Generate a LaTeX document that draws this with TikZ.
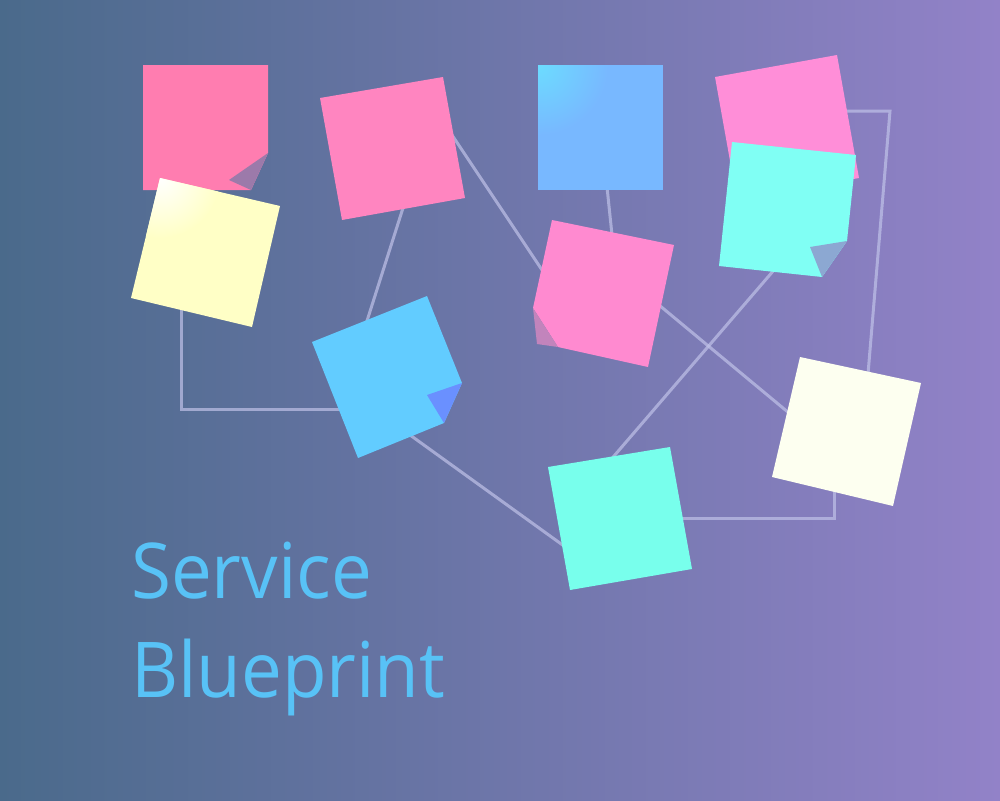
\documentclass[tikz,border=0pt]{standalone}
\usepackage{fontspec}
\setmainfont{Open Sans}
\newfontfamily\titlefont[FakeStretch=0.945]{Open Sans}
\definecolor{bgL}{HTML}{4A6A8B}
\definecolor{bgR}{HTML}{9282C8}
\definecolor{lineC}{HTML}{C0C2E8}
\definecolor{pinkA}{HTML}{FF7DB0}
\definecolor{pinkB}{HTML}{FF85C0}
\definecolor{pinkE}{HTML}{FF8ED8}
\definecolor{pinkG}{HTML}{FF8AD0}
\definecolor{yelC}{HTML}{FFFFC6}
\definecolor{blueD}{HTML}{78B8FF}
\definecolor{blueDl}{HTML}{6CDCFF}
\definecolor{cyanF}{HTML}{80FFF4}
\definecolor{blueH}{HTML}{62CCFF}
\definecolor{cyanI}{HTML}{78FFEC}
\definecolor{creamJ}{HTML}{FDFFF0}
\definecolor{foldA}{HTML}{9C7AAA}
\definecolor{foldF}{HTML}{8CA8D2}
\definecolor{foldG}{HTML}{C284BC}
\definecolor{foldH}{HTML}{6A90FF}
\definecolor{titleC}{HTML}{58C2F6}
\begin{document}
\begin{tikzpicture}[x=1pt,y=-1pt,
  conn/.style={line width=3pt,draw=lineC,draw opacity=0.7},
  title/.style={anchor=base west,inner sep=0pt,text=titleC,font=\titlefont\fontsize{77}{90}\selectfont}]
\useasboundingbox (0,0) rectangle (1000,800);
\shade[left color=bgL,right color=bgR] (0,0) rectangle (1000,800);
% connector end points
\coordinate (c1a) at (181,300);
\coordinate (c1b) at (181,409);
\coordinate (c1c) at (340,409);
\coordinate (c2a) at (403,208);
\coordinate (c2b) at (366,324);
\coordinate (c3a) at (450,132);
\coordinate (c3b) at (544,273);
\coordinate (c4a) at (607,187);
\coordinate (c4b) at (612,235);
\coordinate (c5a) at (845,111);
\coordinate (c5b) at (890,111);
\coordinate (c5c) at (868,374);
\coordinate (c6a) at (659,305);
\coordinate (c6b) at (789,413);
\coordinate (c7a) at (774,270);
\coordinate (c7b) at (608,463);
\coordinate (c8a) at (410,435);
\coordinate (c8b) at (564,546);
\coordinate (c9a) at (681,518);
\coordinate (c9b) at (834,518);
\coordinate (c9c) at (834,490);
% connectors
\draw[conn] (c1a) -- (c1b) -- (c1c);
\draw[conn] (c2a) -- (c2b);
\draw[conn] (c3a) -- (c3b);
\draw[conn] (c4a) -- (c4b);
\draw[conn] (c5a) -- (c5b) -- (c5c);
\draw[conn] (c6a) -- (c6b);
\draw[conn] (c7a) -- (c7b);
\draw[conn] (c8a) -- (c8b);
\draw[conn] (c9a) -- (c9b) -- (c9c);
% note A
\fill[pinkA] (143,65) -- (268,65) -- (268,153) -- (251,190) -- (143,190) -- cycle;
\fill[foldA] (268,153) -- (229,180) -- (251,190) -- cycle;
% note C
\begin{scope}
\clip (160,178) -- (280,206) -- (252,327) -- (131,298) -- cycle;
\fill[yelC] (100,150) rectangle (300,340);
\shade[inner color=white,outer color=yelC] (160,178) circle (60);
\end{scope}
% note B
\fill[pinkB] (320,98) -- (443,77) -- (465,198) -- (342,220) -- cycle;
% note D
\begin{scope}
\clip (538,65) rectangle (663,190);
\fill[blueD] (538,65) rectangle (663,190);
\shade[inner color=blueDl,outer color=blueD] (538,65) circle (70);
\end{scope}
% note E
\fill[pinkE] (715,77) -- (837,55) -- (859,178) -- (737,200) -- cycle;
% note F
\fill[cyanF] (732,142) -- (856,155) -- (847,241) -- (822,277) -- (719,266) -- cycle;
\fill[foldF] (847,241) -- (810,247) -- (822,277) -- cycle;
% note G
\fill[pinkG] (552,220) -- (674,245) -- (648,367) -- (558,347) -- (533,308) -- cycle;
\fill[foldG] (533,308) -- (537,344) -- (558,347) -- cycle;
% note H
\fill[blueH] (312,342) -- (427,296) -- (462,383) -- (444,423) -- (358,458) -- cycle;
\fill[foldH] (462,383) -- (427,395) -- (444,423) -- cycle;
% note I
\fill[cyanI] (548,467) -- (670,447) -- (692,569) -- (570,590) -- cycle;
% note J
\fill[creamJ] (800,357) -- (921,383) -- (893,506) -- (772,477) -- cycle;
% title
\node[title] (t1) at (131,598) {Service};
\node[title] (t2) at (131,697) {Blueprint};
\end{tikzpicture}
\end{document}
